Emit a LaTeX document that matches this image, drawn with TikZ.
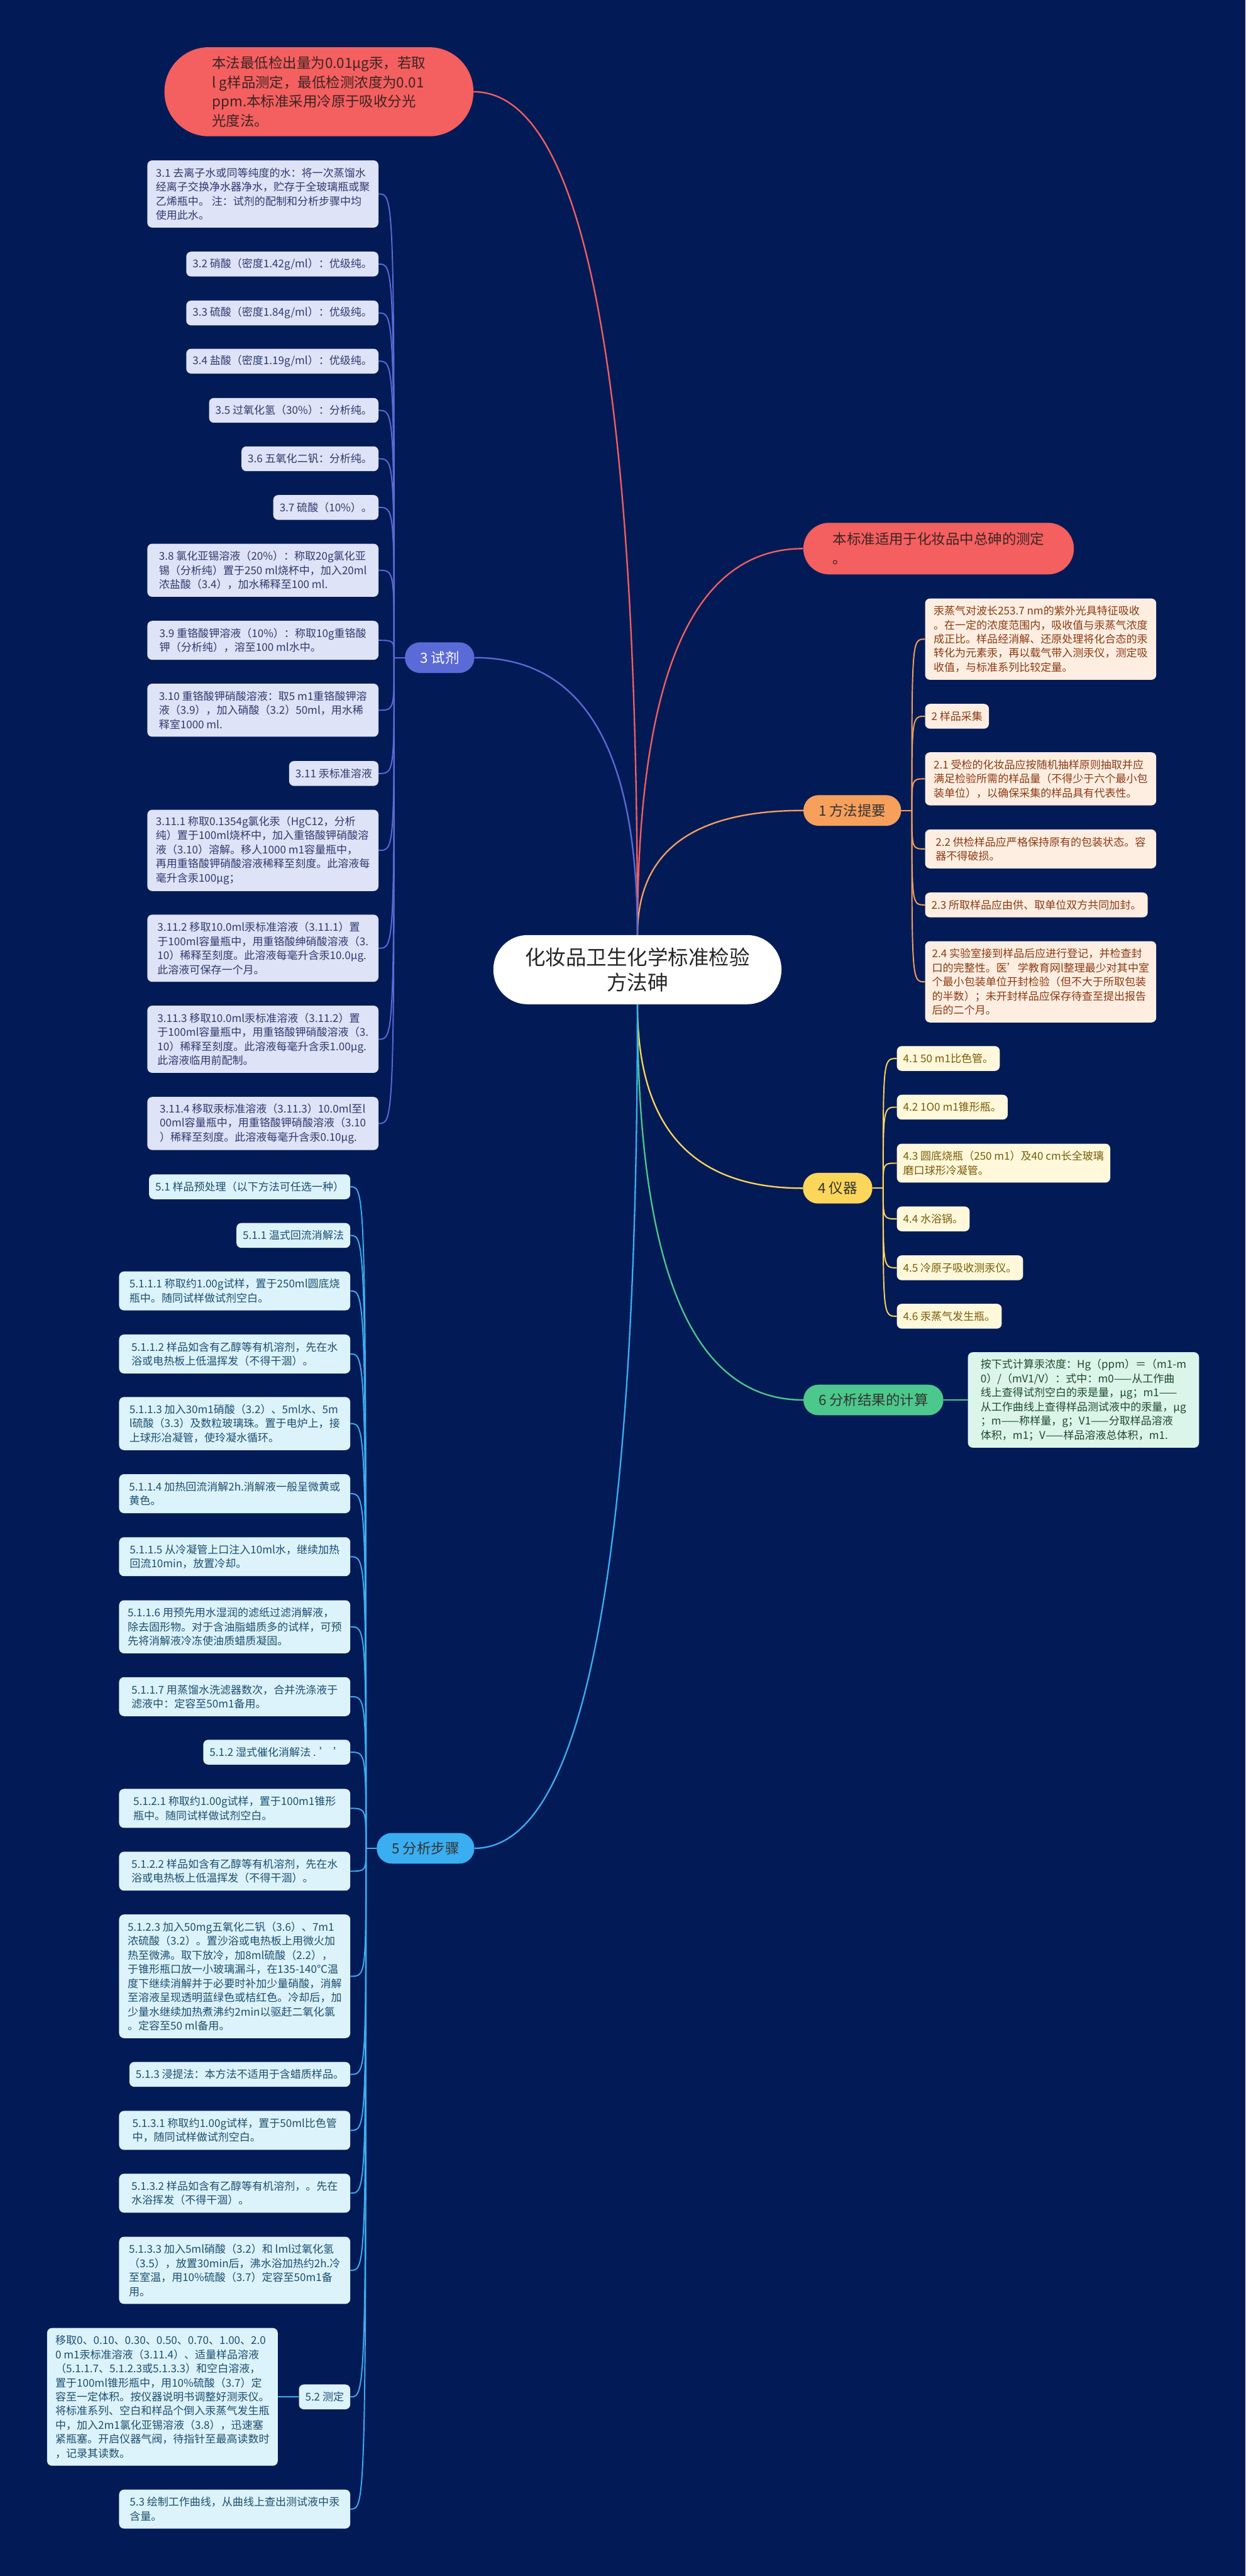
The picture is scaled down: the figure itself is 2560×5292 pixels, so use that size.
\documentclass[tikz,border=0pt]{standalone}
\usepackage{fontspec}
\setmainfont{Noto Sans CJK SC}
\usetikzlibrary{positioning,calc}

\definecolor{navy}{HTML}{021B57}
\definecolor{coral}{HTML}{F45F5F}
\definecolor{coraltext}{HTML}{3B2424}
\definecolor{orangemain}{HTML}{F6A05C}
\definecolor{orangeleaf}{HTML}{FEEEE2}
\definecolor{orangetext}{HTML}{8A3A12}
\definecolor{purplemain}{HTML}{5A6AD6}
\definecolor{purpleleaf}{HTML}{DFE3F7}
\definecolor{purpletext}{HTML}{2E3A6E}
\definecolor{yellowmain}{HTML}{FCD65A}
\definecolor{yellowleaf}{HTML}{FFF8DB}
\definecolor{yellowtext}{HTML}{7A5C08}
\definecolor{greenmain}{HTML}{4CC88C}
\definecolor{greenleaf}{HTML}{DCF5EA}
\definecolor{greentext}{HTML}{1E4A2E}
\definecolor{cyanmain}{HTML}{3AAEF0}
\definecolor{cyanleaf}{HTML}{DDF3FC}
\definecolor{cyantext}{HTML}{1B4F6E}

\tikzset{
  root/.style={fill=white, text=black!85, rounded corners=70pt, minimum width=592pt,
    minimum height=142pt, align=center, font=\fontsize{42}{52}\selectfont},
  note/.style={fill=coral, text=coraltext, align=left, font=\fontsize{29}{40}\selectfont},
  topic/.style={rounded corners=31pt, minimum height=63pt, inner xsep=31pt,
    font=\fontsize{29}{35}\selectfont},
  leafbox/.style={rounded corners=10pt, align=left, inner xsep=13pt, inner ysep=4pt,
    font=\fontsize{22}{29}\selectfont, minimum height={#1*29+22}},
  leafbox/.default=1,
  wide/.style={minimum width=475pt},
  summary/.style={leafbox=#1, fill=orangeleaf, text=orangetext, anchor=west},
  summary/.default=1,
  reagent/.style={leafbox=#1, fill=purpleleaf, text=purpletext, anchor=east},
  reagent/.default=1,
  device/.style={leafbox=#1, fill=yellowleaf, text=yellowtext, anchor=west},
  device/.default=1,
  result/.style={leafbox=#1, fill=greenleaf, text=greentext, anchor=west},
  result/.default=1,
  procedure/.style={leafbox=#1, fill=cyanleaf, text=cyantext, anchor=east},
  procedure/.default=1,
  mainline/.style={line width=3pt},
  subline/.style={line width=2.5pt},
}

\begin{document}
\begin{tikzpicture}[x=1pt, y=-1pt]
\fill[navy] (0,0) rectangle (2560,5292);
\useasboundingbox (0,0) rectangle (2560,5292);

% root and first level
\node[root] (root) at (1310,1992) {化妆品卫生化学标准检验\\方法砷};
\node[note, rounded corners=91pt, minimum width=635pt, minimum height=183pt] (note1) at (655.5,188.5)
  {本法最低检出量为0.01μg汞，若取\\l g样品测定，最低检测浓度为0.01\\ppm.本标准采用冷原于吸收分光\\光度法。};
\node[note, rounded corners=53pt, minimum width=556pt, minimum height=106pt] (note2) at (1929,1127)
  {本标准适用于化妆品中总砷的测定\\。};
\node[topic, fill=orangemain, text=black!80, anchor=west] (t1) at (1651,1665) {1 方法提要};
\node[topic, fill=purplemain, text=white, anchor=east] (t3) at (975,1351) {3 试剂};
\node[topic, fill=yellowmain, text=black!80, anchor=west] (t4) at (1650,2441) {4 仪器};
\node[topic, fill=greenmain, text=black!80, anchor=west] (t6) at (1651,2876) {6 分析结果的计算};
\node[topic, fill=cyanmain, text=black!80, anchor=east] (t5) at (975,3797) {5 分析步骤};

\foreach \tgt/\side/\col in {note1.east/north/coral, note2.west/north/coral, t1.west/north/orangemain,
    t3.east/north/purplemain, t4.west/south/yellowmain, t6.west/south/greenmain, t5.east/south/cyanmain}
  \draw[mainline, \col] (root.\side) .. controls ($(root.\side)!0.67!(root.\side |- \tgt)$)
    and ($(\tgt)!0.67!(root.\side |- \tgt)$) .. (\tgt);

% 1 方法提要
\node[summary=5, wide] (s0) at (1901,1313) {汞蒸气对波长253.7 nm的紫外光具特征吸收\\。在一定的浓度范围内，吸收值与汞蒸气浓度\\成正比。样品经消解、还原处理将化合态的汞\\转化为元素汞，再以载气带入测汞仪，测定吸\\收值，与标准系列比较定量。};
\node[summary] (s2) at (1901,1471.5) {2 样品采集};
\node[summary=3, wide] (s21) at (1901,1600) {2.1 受检的化妆品应按随机抽样原则抽取并应\\满足检验所需的样品量（不得少于六个最小包\\装单位），以确保采集的样品具有代表性。};
\node[summary=2, wide] (s22) at (1901,1744) {2.2 供检样品应严格保持原有的包装状态。容\\器不得破损。};
\node[summary] (s23) at (1901,1859) {2.3 所取样品应由供、取单位双方共同加封。};
\node[summary=5, wide] (s24) at (1901,2017) {2.4 实验室接到样品后应进行登记，并检查封\\口的完整性。医'学教育网l整理最少对其中室\\个最小包装单位开封检验（但不大于所取包装\\的半数）；未开封样品应保存待查至提出报告\\后的二个月。};

\coordinate[right=22pt of t1] (j1);
\draw[subline, orangemain] (t1.east) -- (j1);
\foreach \n in {s0,s2,s21,s22,s23,s24}
  \draw[subline, orangemain] (j1) .. controls (j1 |- \n.west) .. (\n.west);

% 3 试剂
\node[reagent=4, wide] (r31) at (778,398.5) {3.1 去离子水或同等纯度的水：将一次蒸馏水\\经离子交换净水器净水，贮存于全玻璃瓶或聚\\乙烯瓶中。 注：试剂的配制和分析步骤中均\\使用此水。};
\node[reagent] (r32) at (778,542.5) {3.2 硝酸（密度1.42g/ml）：优级纯。};
\node[reagent] (r33) at (778,643) {3.3 硫酸（密度1.84g/ml）：优级纯。};
\node[reagent] (r34) at (778,742) {3.4 盐酸（密度1.19g/ml）：优级纯。};
\node[reagent] (r35) at (778,843) {3.5 过氧化氢（30\%）：分析纯。};
\node[reagent] (r36) at (778,942.5) {3.6 五氧化二钒：分析纯。};
\node[reagent] (r37) at (778,1042.5) {3.7 硫酸（10\%）。};
\node[reagent=3, wide] (r38) at (778,1171.5) {3.8 氯化亚锡溶液（20\%）：称取20g氯化亚\\锡（分析纯）置于250 ml烧杯中，加入20ml\\浓盐酸（3.4），加水稀释至100 ml.};
\node[reagent=2, wide] (r39) at (778,1315.5) {3.9 重铬酸钾溶液（10\%）：称取10g重铬酸\\钾（分析纯），溶至100 ml水中。};
\node[reagent=3, wide] (r310) at (778,1459) {3.10 重铬酸钾硝酸溶液：取5 m1重铬酸钾溶\\液（3.9），加入硝酸（3.2）50ml，用水稀\\释室1000 ml.};
\node[reagent] (r311) at (778,1589) {3.11 汞标准溶液};
\node[reagent=5, wide] (r3111) at (778,1747) {3.11.1 称取0.1354g氯化汞（HgC12，分析\\纯）置于100ml烧杯中，加入重铬酸钾硝酸溶\\液（3.10）溶解。移人1000 m1容量瓶中，\\再用重铬酸钾硝酸溶液稀释至刻度。此溶液每\\毫升含汞100μg；};
\node[reagent=4, wide] (r3112) at (778,1948) {3.11.2 移取10.0ml汞标准溶液（3.11.1）置\\于100ml容量瓶中，用重铬酸绅硝酸溶液（3.\\10）稀释至刻度。此溶液每毫升含汞10.0μg.\\此溶液可保存一个月。};
\node[reagent=4, wide] (r3113) at (778,2135) {3.11.3 移取10.0ml汞标准溶液（3.11.2）置\\于100ml容量瓶中，用重铬酸钾硝酸溶液（3.\\10）稀释至刻度。此溶液每毫升含汞1.00μg.\\此溶液临用前配制。};
\node[reagent=3, wide] (r3114) at (778,2308) {3.11.4 移取汞标准溶液（3.11.3）10.0ml至l\\00ml容量瓶中，用重铬酸钾硝酸溶液（3.10\\）稀释至刻度。此溶液每毫升含汞0.10μg.};

\coordinate[left=22pt of t3] (j3);
\draw[subline, purplemain] (t3.west) -- (j3);
\foreach \n in {r31,r32,r33,r34,r35,r36,r37,r38,r39,r310,r311,r3111,r3112,r3113,r3114}
  \draw[subline, purplemain] (j3) .. controls (j3 |- \n.east) .. (\n.east);

% 4 仪器
\node[device] (d41) at (1843,2174.5) {4.1 50 m1比色管。};
\node[device] (d42) at (1843,2274.5) {4.2 1O0 m1锥形瓶。};
\node[device=2] (d43) at (1843,2389.5) {4.3 圆底烧瓶（250 m1）及40 cm长全玻璃\\磨口球形冷凝管。};
\node[device] (d44) at (1843,2504) {4.4 水浴锅。};
\node[device] (d45) at (1843,2604.5) {4.5 冷原子吸收测汞仪。};
\node[device] (d46) at (1843,2704) {4.6 汞蒸气发生瓶。};

\coordinate[right=22pt of t4] (j4);
\draw[subline, yellowmain] (t4.east) -- (j4);
\foreach \n in {d41,d42,d43,d44,d45,d46}
  \draw[subline, yellowmain] (j4) .. controls (j4 |- \n.west) .. (\n.west);

% 6 分析结果的计算
\node[result=6, wide] (c6) at (1989,2876) {按下式计算汞浓度：Hg（ppm）＝（m1-m\\0）/（mV1/V）：式中：m0——从工作曲\\线上查得试剂空白的汞是量，μg；m1——\\从工作曲线上查得样品测试液中的汞量，μg\\；m——称样量，g；V1——分取样品溶液\\体积，m1；V——样品溶液总体积，m1.};
\draw[subline, greenmain] (t6.east) -- (c6.west);

% 5 分析步骤
\node[procedure] (p51) at (720,2438) {5.1 样品预处理（以下方法可任选一种）};
\node[procedure] (p511) at (720,2538) {5.1.1 温式回流消解法};
\node[procedure=2, wide] (p5111) at (720,2652) {5.1.1.1 称取约1.00g试样，置于250ml圆底烧\\瓶中。随同试样做试剂空白。};
\node[procedure=2, wide] (p5112) at (720,2781.5) {5.1.1.2 样品如含有乙醇等有机溶剂，先在水\\浴或电热板上低温挥发（不得干涸）。};
\node[procedure=3, wide] (p5113) at (720,2924.5) {5.1.1.3 加入30m1硝酸（3.2）、5ml水、5m\\l硫酸（3.3）及数粒玻璃珠。置于电炉上，接\\上球形冶凝管，使玲凝水循环。};
\node[procedure=2, wide] (p5114) at (720,3068.5) {5.1.1.4 加热回流消解2h.消解液一般呈微黄或\\黄色。};
\node[procedure=2, wide] (p5115) at (720,3198) {5.1.1.5 从冷凝管上口注入10ml水，继续加热\\回流10min，放置冷却。};
\node[procedure=3, wide] (p5116) at (720,3342) {5.1.1.6 用预先用水湿润的滤纸过滤消解液，\\除去固形物。对于含油脂蜡质多的试样，可预\\先将消解液冷冻使油质蜡质凝固。};
\node[procedure=2, wide] (p5117) at (720,3485.5) {5.1.1.7 用蒸馏水洗滤器数次，合并洗涤液于\\滤液中：定容至50m1备用。};
\node[procedure] (p512) at (720,3599.5) {5.1.2 湿式催化消解法 . ' '};
\node[procedure=2, wide] (p5121) at (720,3715) {5.1.2.1 称取约1.00g试样，置于100m1锥形\\瓶中。随同试样做试剂空白。};
\node[procedure=2, wide] (p5122) at (720,3844) {5.1.2.2 样品如含有乙醇等有机溶剂，先在水\\浴或电热板上低温挥发（不得干涸）。};
\node[procedure=8, wide] (p5123) at (720,4060) {5.1.2.3 加入50mg五氧化二钒（3.6）、7m1\\浓硫酸（3.2）。置沙浴或电热板上用微火加\\热至微沸。取下放冷，加8ml硫酸（2.2），\\于锥形瓶口放一小玻璃漏斗，在135-140℃温\\度下继续消解并于必要时补加少量硝酸，消解\\至溶液呈现透明蓝绿色或桔红色。冷却后，加\\少量水继续加热煮沸约2min以驱赶二氧化氯\\。定容至50 ml备用。};
\node[procedure] (p513) at (720,4261.5) {5.1.3 浸提法：本方法不适用于含蜡质样品。};
\node[procedure=2, wide] (p5131) at (720,4376.5) {5.1.3.1 称取约1.00g试样，置于50ml比色管\\中，随同试样做试剂空白。};
\node[procedure=2, wide] (p5132) at (720,4505.5) {5.1.3.2 样品如含有乙醇等有机溶剂，。先在\\水浴挥发（不得干涸）。};
\node[procedure=4, wide] (p5133) at (720,4664) {5.1.3.3 加入5ml硝酸（3.2）和 lml过氧化氢\\（3.5），放置30min后，沸水浴加热约2h.冷\\至室温，用10\%硫酸（3.7）定容至50m1备\\用。};
\node[procedure] (p52) at (720,4924) {5.2 测定};
\node[procedure=9, minimum width=474pt] (p52d) at (571,4924) {移取0、0.10、0.30、0.50、0.70、1.00、2.0\\0 m1汞标准溶液（3.11.4）、适量样品溶液\\（5.1.1.7、5.1.2.3或5.1.3.3）和空白溶液，\\置于100ml锥形瓶中，用10\%硫酸（3.7）定\\容至一定体积。按仪器说明书调整好测汞仪。\\将标准系列、空白和样品个倒入汞蒸气发生瓶\\中，加入2m1氯化亚锡溶液（3.8），迅速塞\\紧瓶塞。开启仪器气阀，待指针至最高读数时\\，记录其读数。};
\node[procedure=2, wide] (p53) at (720,5154.5) {5.3 绘制工作曲线，从曲线上查出测试液中汞\\含量。};

\coordinate[left=22pt of t5] (j5);
\draw[subline, cyanmain] (t5.west) -- (j5);
\foreach \n in {p51,p511,p5111,p5112,p5113,p5114,p5115,p5116,p5117,p512,p5121,p5122,p5123,p513,p5131,p5132,p5133,p52,p53}
  \draw[subline, cyanmain] (j5) .. controls (j5 |- \n.east) .. (\n.east);
\draw[subline, cyanmain] (p52.west) -- (p52d.east);
\end{tikzpicture}
\end{document}
